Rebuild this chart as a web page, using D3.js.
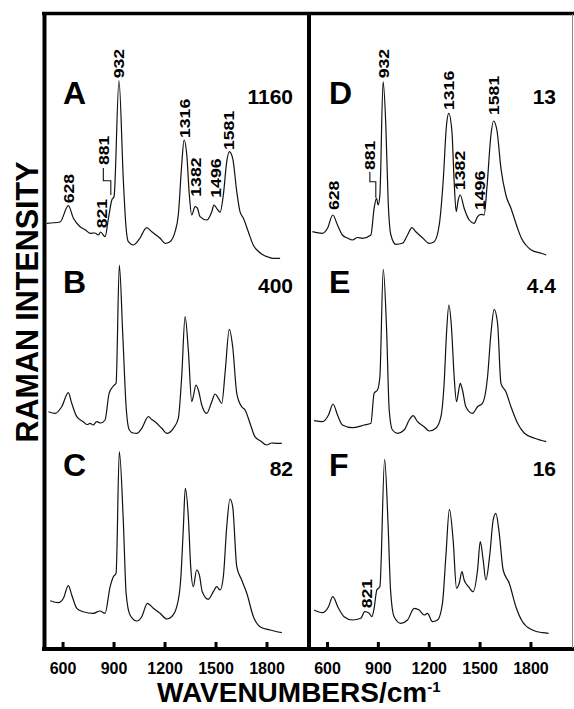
<!DOCTYPE html>
<html>
<head>
<meta charset="utf-8">
<script src="https://cdn.jsdelivr.net/npm/d3@7"></script>
<style>
  html, body { margin: 0; padding: 0; background: #fff; }
  svg { display: block; font-family: "Liberation Sans", Arial, Helvetica, sans-serif; }
</style>
</head>
<body>
<svg id="chart" width="574" height="709"></svg>
<script>
// spectra: [wavenumber, relative intensity]
const spectrumA = [[507,36.7],[585,38],[634,54.3],[664,41.7],[703,33.3],[735,30],[762,26.7],[790,27],[811,25],[824,28],[850,23.3],[870,41.7],[890,60],[903,63.3],[932,179.3],[958,78.3],[974,31.7],[987,18.3],[1017,15],[1037,17.7],[1056,22],[1095,32.3],[1125,28.3],[1150,25],[1174,21.7],[1203,16.7],[1232,18.3],[1262,28.3],[1281,45],[1301,95],[1315,120],[1331,105],[1346,65],[1360,45],[1380,53.3],[1393,52],[1409,43.3],[1448,40],[1478,48.3],[1491,55],[1507,51.7],[1527,47.7],[1546,65],[1566,98.3],[1581,108.3],[1601,101.7],[1625,68.3],[1644,48.3],[1664,41.7],[1693,28.3],[1722,15],[1750,9],[1781,5],[1810,3],[1840,1.7],[1880,1.7]];
const spectrumB = [[517,38.3],[556,36.7],[595,43.3],[634,57.3],[654,46.7],[684,33.3],[722,28.3],[745,25.5],[762,26.7],[780,25],[801,28.3],[825,27],[850,30],[874,56.7],[899,64],[915,66.7],[934,185],[954,116.7],[974,43.3],[993,20],[1015,17],[1037,16.7],[1066,21.7],[1105,33.3],[1125,30.5],[1144,28.3],[1184,21.7],[1213,16.7],[1252,21.7],[1281,31.7],[1301,73.3],[1321,133.3],[1340,100],[1360,48.3],[1369,53.3],[1385,65],[1399,60],[1419,45],[1448,36.7],[1478,48.3],[1497,56],[1517,51.7],[1537,46.7],[1556,76.7],[1581,120.7],[1601,103.3],[1625,56.7],[1654,43.3],[1674,40],[1703,26.7],[1732,13.3],[1765,9],[1801,5],[1830,7],[1860,6.7],[1890,6.7]];
const spectrumC = [[527,39.3],[575,37.3],[605,41.7],[634,54.3],[654,45],[684,31.7],[722,28.3],[781,26.7],[821,29],[850,26.7],[880,53.3],[899,63.3],[915,66.7],[934,188.3],[958,116.7],[974,46.7],[997,25],[1037,19],[1066,23.3],[1099,36.7],[1134,31.7],[1174,26.7],[1213,21],[1242,23.3],[1272,33.3],[1295,60],[1311,113.3],[1322,151.7],[1340,123.3],[1354,73.3],[1369,53.3],[1389,70],[1405,65],[1422,48.3],[1458,40.7],[1487,48.3],[1507,53.3],[1527,50],[1546,63.3],[1566,113.3],[1585,141],[1601,133.3],[1625,73.3],[1654,60],[1684,46.7],[1723,23.3],[1762,13.3],[1821,10],[1890,7.3]];
const spectrumD = [[514,28.3],[573,26.7],[603,31.7],[634,45],[662,35],[691,25],[720,22],[750,20],[780,22.5],[809,21.7],[859,25],[878,51.7],[892,61.7],[902,55],[912,65],[931,178.3],[947,135],[961,58.3],[977,25],[1006,15.7],[1045,16.7],[1075,25],[1101,32.3],[1124,28.3],[1163,22.3],[1203,16.7],[1232,18.3],[1262,35],[1285,78.3],[1305,135],[1318,146.7],[1337,128.3],[1350,78.3],[1362,48.3],[1374,60],[1386,65],[1409,51.7],[1439,40],[1468,36.7],[1488,43.3],[1508,45.7],[1527,45],[1543,71.7],[1567,125],[1582,139],[1602,130],[1626,91.7],[1655,65],[1685,51.7],[1724,31.7],[1746,22],[1773,15],[1805,10],[1864,6.7],[1893,5]];
const spectrumE = [[524,29.3],[573,28.3],[609,35],[636,46],[662,35],[691,25],[750,22.3],[819,25],[859,26.7],[878,56.7],[898,60],[912,73.3],[932,180.7],[951,123.3],[967,40],[986,20],[1016,16.7],[1055,20],[1085,30],[1108,34.3],[1134,28.3],[1173,23.3],[1203,19],[1242,21.7],[1272,33.3],[1291,66.7],[1305,116.7],[1319,145],[1334,123.3],[1350,73.3],[1364,48.3],[1374,56.7],[1386,66.7],[1399,60],[1419,43.3],[1458,36.7],[1488,43.3],[1517,46.7],[1547,73.3],[1567,116.7],[1586,140.7],[1606,126.7],[1626,66.7],[1655,58.3],[1685,43.3],[1724,26.7],[1763,17],[1825,11.7],[1893,8.3]];
const spectrumF = [[524,30],[573,27.3],[609,33.3],[634,43.3],[668,31.7],[701,23.3],[750,20],[800,21.7],[822,28.3],[849,26.7],[865,23.3],[878,31.7],[894,50],[912,53.3],[940,180.7],[960,116.7],[975,50],[996,23.3],[1036,16.7],[1075,20],[1114,31.7],[1144,30],[1173,25],[1193,26.7],[1222,18.3],[1252,20],[1281,36.7],[1301,83.3],[1322,130.7],[1344,100],[1364,51.7],[1380,56.7],[1396,68.3],[1409,60],[1435,53.3],[1462,48.3],[1488,70],[1504,98.3],[1521,80],[1537,60],[1561,86.7],[1580,120],[1596,126.7],[1616,106.7],[1639,70],[1675,56.7],[1714,33.3],[1753,18.3],[1812,10],[1871,7.3],[1907,6.7]];

// peak labels: [text, wavenumber, intensity at the foot of the label]
const peaksA = [['628',634,56.7],['821',831,31.7],['881',840,95],['932',932,181.7],['1316',1315,122],['1382',1384,63.3],['1496',1501,62.3],['1581',1579,110]];
const peaksD = [['628',638,50],['881',853,90],['932',931,181.7],['1316',1317,150],['1382',1380,70],['1496',1498,50],['1581',1582,145]];
const peaksF = [['821',833,31.7]];
const bracketA = [[840,92],[840,79.3],[884,79.3],[884,65]];
const bracketD = [[853,88],[853,78.3],[888,78.3],[888,62.3]];

const panelLetters = ['A','B','C','D','E','F'];
const scaleFactors = ['1160','400','82','13','4.4','16'];
const tickValues = [600, 900, 1200, 1500, 1800];

const svg = d3.select('#chart');
const W = 574;

const xLeft = d3.scaleLinear().domain([485, 2050]).range([43, 309]);
const xRight = d3.scaleLinear().domain([494, 2045]).range([309, 572]);
const rowBottoms = [260, 450, 640];
const rowY = rowBottoms.map(function (b) {
  return d3.scaleLinear().domain([0, 200]).range([b, b - 200]);
});

const panels = [
  {x: xLeft, row: 0, data: spectrumA, peaks: peaksA, bracket: bracketA},
  {x: xLeft, row: 1, data: spectrumB},
  {x: xLeft, row: 2, data: spectrumC},
  {x: xRight, row: 0, data: spectrumD, peaks: peaksD, bracket: bracketD},
  {x: xRight, row: 1, data: spectrumE},
  {x: xRight, row: 2, data: spectrumF, peaks: peaksF}
];

// spectra
panels.forEach(function (p, i) {
  const y = rowY[p.row];
  const line = d3.line()
    .x(function (d) { return p.x(d[0]); })
    .y(function (d) { return y(d[1]); });

  svg.append('path')
    .datum(p.data)
    .attr('fill', 'none')
    .attr('stroke', '#111')
    .attr('stroke-width', 1.2)
    .attr('stroke-linejoin', 'round')
    .attr('d', line.curve(d3.curveMonotoneX));

  if (p.peaks) {
    svg.selectAll(null)
      .data(p.peaks)
      .enter().append('text')
      .attr('transform', function (d) {
        return 'translate(' + (p.x(d[1]) + 5.5) + ',' + y(d[2]) + ') rotate(-90)';
      })
      .attr('font-size', 15)
      .attr('font-weight', 'bold')
      .attr('textLength', function (d) { return d[0].length * 9.8; })
      .attr('lengthAdjust', 'spacingAndGlyphs')
      .text(function (d) { return d[0]; });
  }

  if (p.bracket) {
    svg.append('path')
      .datum(p.bracket)
      .attr('fill', 'none')
      .attr('stroke', '#111')
      .attr('stroke-width', 1.1)
      .attr('d', line.curve(d3.curveLinear));
  }

  // panel letter and scale factor
  const left = p.x.range()[0];
  const right = p.x.range()[1];
  const base = [104, 293, 476][p.row];
  svg.append('text')
    .attr('x', left + 20)
    .attr('y', base)
    .attr('font-size', 32)
    .attr('font-weight', 'bold')
    .text(panelLetters[i]);
  svg.append('text')
    .attr('x', right - 16)
    .attr('y', base)
    .attr('text-anchor', 'end')
    .attr('font-size', 21)
    .attr('font-weight', 'bold')
    .text(scaleFactors[i]);
});

// frame
const frame = svg.append('g').attr('stroke', '#000').attr('fill', 'none');
frame.append('line').attr('x1', 42).attr('x2', W).attr('y1', 13.5).attr('y2', 13.5).attr('stroke-width', 3.5);
frame.append('line').attr('x1', 44.5).attr('x2', 44.5).attr('y1', 12).attr('y2', 651).attr('stroke-width', 4);
frame.append('line').attr('x1', 309).attr('x2', 309).attr('y1', 12).attr('y2', 651).attr('stroke-width', 4);
frame.append('line').attr('x1', 42).attr('x2', W).attr('y1', 649).attr('y2', 649).attr('stroke-width', 4);
frame.append('line').attr('x1', 572.5).attr('x2', 572.5).attr('y1', 14).attr('y2', 648)
  .attr('stroke-width', 1).attr('stroke', '#888');

// bottom axes
[xLeft, xRight].forEach(function (x) {
  const axis = d3.axisBottom(x)
    .tickValues(tickValues)
    .tickFormat(d3.format('d'))
    .tickSize(-5)
    .tickPadding(16);
  const g = svg.append('g')
    .attr('transform', 'translate(0,647)')
    .call(axis);
  g.select('.domain').remove();
  g.selectAll('.tick line').attr('stroke', '#000').attr('stroke-width', 3);
  g.selectAll('.tick text')
    .attr('font-family', '"Liberation Sans", Arial, sans-serif')
    .attr('font-size', 16)
    .attr('font-weight', 'bold')
    .attr('fill', '#000');
});

// axis titles
svg.append('text')
  .attr('transform', 'translate(38,302) rotate(-90)')
  .attr('text-anchor', 'middle')
  .attr('font-size', 31)
  .attr('font-weight', 'bold')
  .attr('textLength', 281)
  .attr('lengthAdjust', 'spacingAndGlyphs')
  .text('RAMAN INTENSITY');

const xt = svg.append('text')
  .attr('x', 157)
  .attr('y', 702)
  .attr('font-weight', 'bold');
xt.append('tspan').attr('font-size', 28).text('WAVENUMBERS/cm');
xt.append('tspan').attr('font-size', 15).attr('dy', -10).text('-1');
</script>
</body>
</html>
